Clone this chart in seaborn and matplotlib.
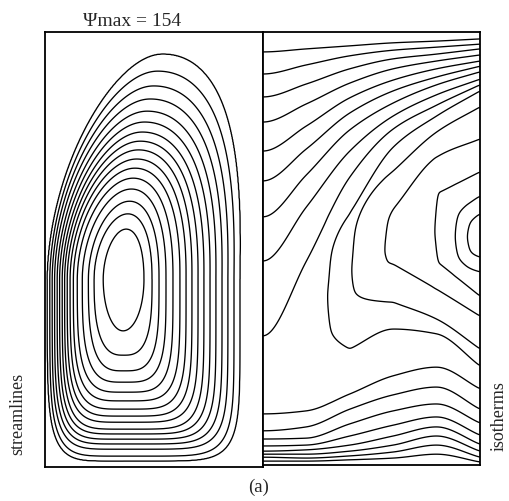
import numpy as np
import matplotlib
matplotlib.use("Agg")
import matplotlib.pyplot as plt
import seaborn as sns

# ---------------- streamlines (left cavity, unit width x unit height) ----------------
psi_max = 154
psi_levels = [10, 19, 28, 37, 46, 55, 64, 73, 82, 91, 100, 109, 118, 127, 136, 145]
eye_x, eye_y = 0.358, 0.432
psi_cross_left = [0.011, 0.022, 0.033, 0.044, 0.056, 0.067, 0.079, 0.090,
                  0.102, 0.115, 0.130, 0.148, 0.171, 0.199, 0.225, 0.267]
psi_cross_right = [0.894, 0.867, 0.839, 0.812, 0.784, 0.757, 0.729, 0.702,
                   0.674, 0.647, 0.619, 0.587, 0.555, 0.523, 0.491, 0.454]
psi_cross_top = [0.949, 0.910, 0.876, 0.846, 0.818, 0.793, 0.770, 0.749,
                 0.729, 0.708, 0.687, 0.664, 0.639, 0.611, 0.582, 0.547]
psi_cross_bottom = [0.014, 0.025, 0.041, 0.053, 0.064, 0.076, 0.087, 0.103,
                    0.117, 0.133, 0.152, 0.172, 0.195, 0.221, 0.257, 0.313]
corner_tl, corner_tr, corner_bl, corner_br = 2.1, 2.0, 5.5, 7.0
lean_top = 0.183

# ---------------- isotherms (right cavity) ----------------
T_levels = list(range(1, 16))
T_top_wall, T_bottom_wall = 0.0, 1.5
# warmest point of each vertical: position across, height, temperature
ridge_x = [0.0, 0.2, 0.309, 0.415, 0.571, 0.80, 0.89, 0.945, 1.0]
ridge_y = [0.208, 0.291, 0.402, 0.453, 0.499, 0.540, 0.527, 0.527, 0.531]
ridge_T = [9.3, 9.7, 10.05, 11.05, 12.05, 13.05, 14.05, 15.05, 15.6]
col_x = [0.0, 0.2, 0.4, 0.6, 0.8, 1.0]
# heights where isotherms 1, 2, ... cross each column above the warm ridge
col_upper = [
    [0.954, 0.903, 0.850, 0.792, 0.725, 0.656, 0.573, 0.471, 0.298],
    [0.961, 0.924, 0.880, 0.834, 0.783, 0.730, 0.670, 0.596, 0.471],
    [0.968, 0.945, 0.915, 0.882, 0.848, 0.813, 0.774, 0.725, 0.665, 0.580],
    [0.975, 0.958, 0.938, 0.915, 0.889, 0.864, 0.836, 0.806, 0.776, 0.734, 0.679, 0.591],
    [0.979, 0.965, 0.949, 0.933, 0.915, 0.896, 0.878, 0.855, 0.831, 0.806, 0.769,
     0.711, 0.626],
    [0.984, 0.972, 0.961, 0.947, 0.933, 0.921, 0.908, 0.891, 0.878, 0.864, 0.827,
     0.753, 0.677, 0.621, 0.580],
]
# heights where isotherms 2, 3, ... cross each column below the warm ridge
col_lower = [
    [0.009, 0.018, 0.025, 0.032, 0.044, 0.060, 0.079, 0.118],
    [0.009, 0.016, 0.025, 0.035, 0.046, 0.062, 0.088, 0.125],
    [0.012, 0.021, 0.032, 0.046, 0.067, 0.095, 0.129, 0.164, 0.268],
    [0.016, 0.030, 0.046, 0.067, 0.092, 0.125, 0.162, 0.206, 0.314, 0.376, 0.464],
    [0.025, 0.046, 0.067, 0.088, 0.111, 0.141, 0.180, 0.226, 0.303, 0.337, 0.406, 0.471],
    [0.007, 0.018, 0.032, 0.048, 0.069, 0.097, 0.129, 0.176, 0.229, 0.268, 0.344,
     0.390, 0.446, 0.480],
]


def pchip(xk, yk, x, m_end=None, m_start=None):
    xk = np.asarray(xk, float)
    yk = np.asarray(yk, float)
    x = np.asarray(x, float)
    if len(xk) == 1:
        return np.full(x.shape, yk[0])
    h = np.diff(xk)
    d = np.diff(yk) / h
    m = np.zeros_like(yk)
    for i in range(1, len(xk) - 1):
        if d[i - 1] * d[i] > 0:
            w1 = 2 * h[i] + h[i - 1]
            w2 = h[i] + 2 * h[i - 1]
            m[i] = (w1 + w2) / (w1 / d[i - 1] + w2 / d[i])
    m[0] = d[0] if m_start is None else m_start
    m[-1] = d[-1] if m_end is None else m_end
    xc = np.clip(x, xk[0], xk[-1])
    idx = np.clip(np.searchsorted(xk, xc) - 1, 0, len(xk) - 2)
    hh = h[idx]
    t = (xc - xk[idx]) / hh
    t2 = t * t
    t3 = t2 * t
    return ((2 * t3 - 3 * t2 + 1) * yk[idx] + (t3 - 2 * t2 + t) * hh * m[idx]
            + (-2 * t3 + 3 * t2) * yk[idx + 1] + (t3 - t2) * hh * m[idx + 1])


def blur_x(F, sigma):
    r = int(3 * sigma)
    k = np.exp(-0.5 * (np.arange(-r, r + 1) / sigma) ** 2)
    k /= k.sum()
    P = np.pad(F, ((0, 0), (r, r)), mode="edge")
    return np.array([np.convolve(row, k, mode="valid") for row in P])


# ---- stream function field: nested quadrant super-ellipses ----
lev = np.array(psi_levels, float)
nk = len(lev)
AL = eye_x - np.array(psi_cross_left)
AR = np.array(psi_cross_right) - eye_x
BT = np.array(psi_cross_top) - eye_y
BB = eye_y - np.array(psi_cross_bottom)
w = (1 - np.arange(nk) / (nk - 1)) ** 0.6
nTL = 2 + (corner_tl - 2) * w
nTR = 2 + (corner_tr - 2) * w
nBL = 2 + (corner_bl - 2) * w
nBR = 2 + (corner_br - 2) * w

nx, ny = 420, 840
gx = np.linspace(0, 1, nx)
gy = np.linspace(0, 1, ny)
GX, GY = np.meshgrid(gx, gy)
dy = GY - eye_y
shear = lean_top * np.clip(dy / BT[0], 0, None) ** 1.7
dx = GX - eye_x - shear
left = dx < 0
top = dy >= 0
R = np.empty((nk, ny, nx))
for k in range(nk):
    A = np.where(left, AL[k], AR[k])
    B = np.where(top, BT[k], BB[k])
    n = np.where(top, np.where(left, nTL[k], nTR[k]), np.where(left, nBL[k], nBR[k]))
    R[k] = (np.abs(dx) / A) ** n + (np.abs(dy) / B) ** n
R = np.maximum(R, 1e-9)
m = (R <= 1).sum(axis=0)
psi = np.empty((ny, nx))
out = m == 0
psi[out] = lev[0] / R[0][out]
core = m == nk
psi[core] = lev[-1] + (psi_max - lev[-1]) * (1 - np.minimum(R[-1][core], 1))
for j in range(1, nk):
    sel = m == j
    r0 = np.log(R[j - 1][sel])
    r1 = np.log(R[j][sel])
    f = np.clip(-r0 / np.maximum(r1 - r0, 1e-9), 0, 1)
    psi[sel] = lev[j - 1] + (lev[j] - lev[j - 1]) * f

# ---- temperature field: each isotherm's crossing height runs smoothly across ----
tx = np.linspace(0, 1, 320)
ty = np.linspace(0, 1, 760)
ridge = pchip(ridge_x, ridge_y, tx)
peak = pchip(ridge_x, ridge_T, tx)
fine = np.linspace(0, 1, 4001)
Mfine = pchip(ridge_x, ridge_T, fine)
col_Yr = [float(pchip(ridge_x, ridge_y, c)) for c in col_x]

curves = {}
for upper, lists, first in ((True, col_upper, 1), (False, col_lower, 2)):
    for k in T_levels:
        present = [c for c in range(len(col_x)) if k >= first and k - first < len(lists[c])]
        if not present:
            continue
        c0 = present[0]
        xs = [col_x[c] for c in present]
        ys = [lists[c][k - first] for c in present]
        Yb = ys[0]
        s0 = (1 - Yb) / (1 - col_Yr[c0]) if upper else Yb / col_Yr[c0]
        xk = float(np.interp(k, Mfine, fine)) if c0 > 0 else -1.0
        start = 0.0 if c0 == 0 else None
        curves[(upper, k)] = (col_x[c0], pchip(xs, ys, tx, m_start=start), s0, xk)

T = np.zeros((len(ty), len(tx)))
for i, x in enumerate(tx):
    Mx, yr = peak[i], ridge[i]
    for upper in (True, False):
        s_n = [0.0]
        T_n = [T_top_wall if upper else T_bottom_wall]
        for k in T_levels:
            if k > Mx or (upper, k) not in curves:
                continue
            x0, Yc, s0, xk = curves[(upper, k)]
            if x >= x0:
                Y = Yc[i]
                s = (1 - Y) / (1 - yr) if upper else Y / yr
            else:
                f = np.clip((x - xk) / (x0 - xk), 0, 1) ** 0.28
                s = 1 - f * (1 - s0)
            s_n.append(min(max(s, s_n[-1] + 1e-4), 0.999 - 1e-4 * (20 - k)))
            T_n.append(k)
        s_n.append(1.0)
        T_n.append(Mx)
        if upper:
            sel = ty >= yr
            s = (1 - ty[sel]) / (1 - yr)
        else:
            sel = ty < yr
            s = ty[sel] / yr
        T[sel, i] = pchip(s_n, T_n, s, 0.0)
T = blur_x(T, 2.5)

# ---------------- drawing ----------------
sns.set_theme(style="white")
serif = ["Liberation Serif", "DejaVu Serif"]
plt.rcParams["font.family"] = serif

W, Hh = 509, 502
fig = plt.figure(figsize=(W / 100, Hh / 100), dpi=100)
fig.patch.set_facecolor("white")
ax1 = fig.add_axes([45 / W, 1 - 468 / Hh, 218 / W, 435 / Hh])
ax2 = fig.add_axes([263 / W, 1 - 466 / Hh, 217 / W, 433 / Hh])

ax1.contour(gx, gy, psi, levels=psi_levels, colors="black", linewidths=0.95)
ax2.contour(tx, ty, T, levels=T_levels, colors="black", linewidths=0.95)

for ax in (ax1, ax2):
    ax.set_xlim(0, 1)
    ax.set_ylim(0, 1)
    ax.set_xticks([])
    ax.set_yticks([])
    ax.set_facecolor("white")
    for sp in ax.spines.values():
        sp.set_visible(True)
        sp.set_color("black")
        sp.set_linewidth(1.3)

fig.text(83 / W, 1 - 26 / Hh, "Ψmax = 154", fontsize=14, ha="left", va="baseline")
fig.text(259 / W, 1 - 487 / Hh, "(a)", fontsize=13.5, ha="center", va="center")
fig.text(18 / W, 1 - 414 / Hh, "streamlines", fontsize=13, rotation=90,
         ha="center", va="center")
fig.text(499 / W, 1 - 416 / Hh, "isotherms", fontsize=13, rotation=90,
         ha="center", va="center")

fig.savefig("out.png", dpi=100, facecolor="white")
